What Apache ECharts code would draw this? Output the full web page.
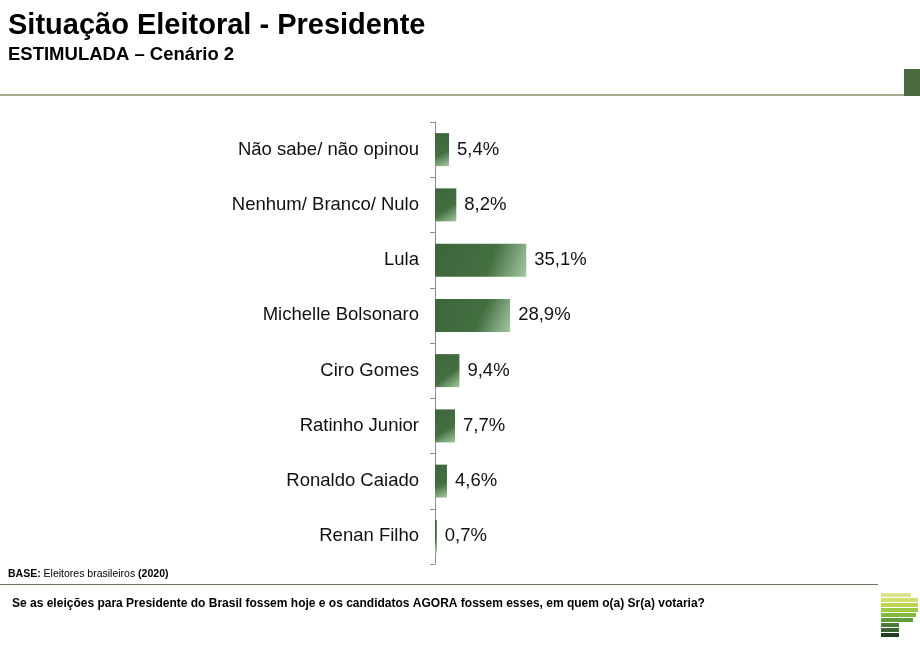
<!DOCTYPE html>
<html>
<head>
<meta charset="utf-8">
<script src="https://cdn.jsdelivr.net/npm/echarts@6/dist/echarts.min.js"></script>
<style>
  html, body { margin: 0; padding: 0; background: #fff; }
  #chart { width: 920px; height: 647px; }
</style>
</head>
<body>
<div id="chart"></div>
<script>
// categorias e valores (%)
var categorias = ['Não sabe/ não opinou', 'Nenhum/ Branco/ Nulo', 'Lula', 'Michelle Bolsonaro',
  'Ciro Gomes', 'Ratinho Junior', 'Ronaldo Caiado', 'Renan Filho'];
var valores = [5.4, 8.2, 35.1, 28.9, 9.4, 7.7, 4.6, 0.7];

var titulo = 'Situação Eleitoral - Presidente';
var subtitulo = 'ESTIMULADA – Cenário 2';
var pergunta = 'Se as eleições para Presidente do Brasil fossem hoje e os candidatos AGORA fossem esses, em quem o(a) Sr(a) votaria?';

// cores da logo (listras)
var logoCores = ['#dfe48c', '#d3df6c', '#bcd550', '#a0c943', '#82b93d', '#619c3a', '#4a7b37', '#3a6232', '#1f3f1f'];
var logoLarg = [30, 37, 37, 37, 35, 32, 18, 18, 18];

var myChart = echarts.init(document.getElementById('chart'));

var logo = [];
for (var i = 0; i < logoCores.length; i++) {
  logo.push({
    type: 'rect',
    shape: { x: 881, y: 593 + i * 5, width: logoLarg[i], height: 4 },
    style: { fill: logoCores[i] }
  });
}

var barColor = new echarts.graphic.LinearGradient(0, 0, 1, 1, [
  { offset: 0, color: '#3d663b' },
  { offset: 0.6, color: '#446f41' },
  { offset: 1, color: '#a3c8a0' }
]);

option = {
  backgroundColor: '#fff',
  animation: false,
  textStyle: { fontFamily: 'Liberation Sans, Arial, sans-serif' },
  title: [
    {
      text: titulo, left: 8, top: 11, padding: 0,
      textStyle: { fontSize: 29, fontWeight: 'bold', color: '#000' }
    },
    {
      text: subtitulo, left: 8, top: 45, padding: 0,
      textStyle: { fontSize: 18.5, fontWeight: 'bold', color: '#000' }
    }
  ],
  graphic: [
    { type: 'rect', shape: { x: 0, y: 94, width: 905, height: 2 }, style: { fill: '#a3aa8e' } },
    { type: 'rect', shape: { x: 904, y: 69, width: 16, height: 27 }, style: { fill: '#4b6b41' } },
    {
      type: 'text', left: 8, top: 569,
      style: {
        text: '{b|BASE:} Eleitores brasileiros {b|(2020)}',
        font: '10.5px Liberation Sans', fill: '#000',
        rich: { b: { fontWeight: 'bold', fontSize: 10.5 } }
      }
    },
    { type: 'rect', shape: { x: 0, y: 584, width: 878, height: 1 }, style: { fill: '#6e7660' } },
    {
      type: 'text', left: 12, top: 598,
      style: { text: pergunta, font: 'bold 12px Liberation Sans', fill: '#000' }
    }
  ].concat(logo),
  grid: { left: 435, right: 225, top: 122, bottom: 83, containLabel: false },
  xAxis: {
    type: 'value', min: 0, max: 100, show: false
  },
  yAxis: {
    type: 'category',
    inverse: true,
    data: categorias,
    axisLine: { show: true, lineStyle: { color: '#8c8c8c', width: 1 } },
    axisTick: { show: true, length: 5, lineStyle: { color: '#8c8c8c' } },
    axisLabel: { fontSize: 18.5, color: '#111', margin: 16 }
  },
  series: [{
    type: 'bar',
    data: valores,
    barWidth: 33,
    itemStyle: { color: barColor },
    label: {
      show: true, position: 'right', distance: 8,
      fontSize: 18.5, color: '#111',
      formatter: function (p) { return p.value.toFixed(1).replace('.', ',') + '%'; }
    }
  }]
};

myChart.setOption(option);
</script>
</body>
</html>
